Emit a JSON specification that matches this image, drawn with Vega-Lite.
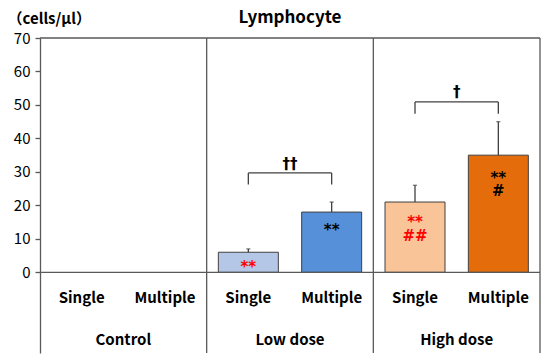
{
  "$schema": "https://vega.github.io/schema/vega-lite/v6.json",
  "width": 500,
  "height": 315,
  "autosize": {"type": "none"},
  "padding": {"left": 40, "top": 38, "right": 10, "bottom": 11},
  "background": "white",
  "config": {
    "view": {"stroke": null},
    "font": "Noto Sans CJK JP"
  },
  "title": {
    "text": "Lymphocyte",
    "font": "Noto Sans CJK JP",
    "fontSize": 17,
    "fontWeight": "bold",
    "color": "black",
    "anchor": "middle",
    "offset": -16
  },
  "datasets": {
    "bars": [
      {"group": "Control", "type": "Single", "key": "Control|Single", "value": 0, "upper": 0},
      {"group": "Control", "type": "Multiple", "key": "Control|Multiple", "value": 0, "upper": 0},
      {"group": "Low dose", "type": "Single", "key": "Low dose|Single", "value": 6, "upper": 7},
      {"group": "Low dose", "type": "Multiple", "key": "Low dose|Multiple", "value": 18, "upper": 21},
      {"group": "High dose", "type": "Single", "key": "High dose|Single", "value": 21, "upper": 26},
      {"group": "High dose", "type": "Multiple", "key": "High dose|Multiple", "value": 35, "upper": 45}
    ],
    "marks": [
      {"key": "Low dose|Single", "y": 2.6, "label": "**", "kind": "star", "tone": "red"},
      {"key": "Low dose|Multiple", "y": 13.5, "label": "**", "kind": "star", "tone": "black"},
      {"key": "High dose|Single", "y": 15.8, "label": "**", "kind": "star", "tone": "red"},
      {"key": "High dose|Single", "y": 10.9, "label": "##", "kind": "hash", "tone": "red"},
      {"key": "High dose|Multiple", "y": 29.2, "label": "**", "kind": "star", "tone": "black"},
      {"key": "High dose|Multiple", "y": 24.4, "label": "#", "kind": "hash", "tone": "black"}
    ],
    "brackets": [
      {"left": "Low dose|Single", "right": "Low dose|Multiple", "top": 29.7, "bottom": 26.2, "label": "††", "labelY": 32.4},
      {"left": "High dose|Single", "right": "High dose|Multiple", "top": 50.9, "bottom": 47.4, "label": "†", "labelY": 53.9}
    ],
    "legs": [
      {"key": "Low dose|Single", "top": 29.7, "bottom": 26.2},
      {"key": "Low dose|Multiple", "top": 29.7, "bottom": 26.2},
      {"key": "High dose|Single", "top": 50.9, "bottom": 47.4},
      {"key": "High dose|Multiple", "top": 50.9, "bottom": 47.4}
    ],
    "one": [{}]
  },
  "layer": [
    {
      "data": {"name": "bars"},
      "transform": [{"filter": "datum.value > 0"}],
      "mark": {"type": "bar", "width": {"band": 0.72}, "stroke": "#404040", "strokeWidth": 1},
      "encoding": {
        "x": {
          "field": "key",
          "type": "nominal",
          "scale": {
            "type": "band",
            "domain": ["Control|Single", "Control|Multiple", "Low dose|Single", "Low dose|Multiple", "High dose|Single", "High dose|Multiple"],
            "paddingInner": 0,
            "paddingOuter": 0
          },
          "axis": null
        },
        "y": {
          "field": "value",
          "type": "quantitative",
          "scale": {"domain": [-24.1, 70], "nice": false, "zero": false},
          "axis": {
            "values": [0, 10, 20, 30, 40, 50, 60, 70],
            "grid": false,
            "domainColor": "#595959",
            "domainWidth": 1.3,
            "tickColor": "#595959",
            "tickSize": 5,
            "tickWidth": 1.3,
            "labelFont": "Noto Sans CJK JP",
            "labelFontSize": 15,
            "labelColor": "black",
            "labelPadding": 5,
            "title": "（cells/μl）",
            "titleAngle": 0,
            "titleFont": "Noto Sans CJK JP",
            "titleFontSize": 15,
            "titleFontWeight": "bold",
            "titleColor": "black",
            "titleX": -33,
            "titleY": -20,
            "titleAlign": "left",
            "titleBaseline": "middle"
          }
        },
        "color": {
          "field": "key",
          "type": "nominal",
          "scale": {
            "domain": ["Low dose|Single", "Low dose|Multiple", "High dose|Single", "High dose|Multiple"],
            "range": ["#B4C7E7", "#5590D8", "#F8C498", "#E46C0A"]
          },
          "legend": null
        }
      }
    },
    {
      "data": {"name": "bars"},
      "transform": [{"filter": "datum.value > 0"}],
      "mark": {"type": "rule", "color": "#404040", "strokeWidth": 1.3},
      "encoding": {
        "x": {"field": "key", "type": "nominal"},
        "y": {"field": "value", "type": "quantitative"},
        "y2": {"field": "upper"}
      }
    },
    {
      "data": {"name": "bars"},
      "transform": [{"filter": "datum.value > 0"}],
      "mark": {"type": "tick", "orient": "horizontal", "size": 4, "thickness": 1.3, "color": "#404040"},
      "encoding": {
        "x": {"field": "key", "type": "nominal"},
        "y": {"field": "upper", "type": "quantitative"}
      }
    },
    {
      "data": {"name": "one"},
      "mark": {"type": "rule", "color": "#595959", "strokeWidth": 1.3},
      "encoding": {"y": {"datum": 70}}
    },
    {
      "data": {"name": "one"},
      "mark": {"type": "rule", "color": "#595959", "strokeWidth": 1.3},
      "encoding": {"y": {"datum": 0}}
    },
    {
      "data": {"name": "one"},
      "mark": {"type": "rule", "color": "#595959", "strokeWidth": 1.3},
      "encoding": {"x": {"datum": "Low dose|Single", "bandPosition": 0}}
    },
    {
      "data": {"name": "one"},
      "mark": {"type": "rule", "color": "#595959", "strokeWidth": 1.3},
      "encoding": {"x": {"datum": "High dose|Single", "bandPosition": 0}}
    },
    {
      "data": {"name": "one"},
      "mark": {"type": "rule", "color": "#595959", "strokeWidth": 1.3},
      "encoding": {"x": {"datum": "High dose|Multiple", "bandPosition": 1}}
    },
    {
      "data": {"name": "brackets"},
      "mark": {"type": "rule", "color": "#404040", "strokeWidth": 1.3},
      "encoding": {
        "x": {"field": "left", "type": "nominal"},
        "x2": {"field": "right"},
        "y": {"field": "top", "type": "quantitative"}
      }
    },
    {
      "data": {"name": "legs"},
      "mark": {"type": "rule", "color": "#404040", "strokeWidth": 1.3},
      "encoding": {
        "x": {"field": "key", "type": "nominal"},
        "y": {"field": "top", "type": "quantitative"},
        "y2": {"field": "bottom"}
      }
    },
    {
      "data": {"name": "brackets"},
      "mark": {"type": "text", "font": "DejaVu Sans", "fontSize": 15, "fontWeight": "bold", "baseline": "alphabetic", "dy": 5, "color": "black"},
      "encoding": {
        "x": {"field": "left", "type": "nominal", "bandPosition": 1},
        "y": {"field": "labelY", "type": "quantitative"},
        "text": {"field": "label"}
      }
    },
    {
      "data": {"name": "marks"},
      "transform": [{"filter": "datum.kind === 'star'"}],
      "mark": {"type": "text", "font": "DejaVu Sans", "fontSize": 15, "fontWeight": "bold", "baseline": "alphabetic", "dy": 8},
      "encoding": {
        "x": {"field": "key", "type": "nominal"},
        "y": {"field": "y", "type": "quantitative"},
        "text": {"field": "label"},
        "color": {"field": "tone", "type": "nominal", "scale": null}
      }
    },
    {
      "data": {"name": "marks"},
      "transform": [{"filter": "datum.kind === 'hash'"}],
      "mark": {"type": "text", "font": "DejaVu Sans", "fontSize": 15, "fontWeight": "bold", "baseline": "alphabetic", "dy": 5.5},
      "encoding": {
        "x": {"field": "key", "type": "nominal"},
        "y": {"field": "y", "type": "quantitative"},
        "text": {"field": "label"},
        "color": {"field": "tone", "type": "nominal", "scale": null}
      }
    },
    {
      "data": {"name": "bars"},
      "mark": {"type": "text", "fontSize": 15, "fontWeight": "bold", "baseline": "middle", "color": "black"},
      "encoding": {
        "x": {"field": "key", "type": "nominal"},
        "y": {"datum": -7.6},
        "text": {"field": "type"}
      }
    },
    {
      "data": {"name": "bars"},
      "transform": [{"filter": "datum.type === 'Single'"}],
      "mark": {"type": "text", "fontSize": 15, "fontWeight": "bold", "baseline": "middle", "color": "black"},
      "encoding": {
        "x": {"field": "key", "type": "nominal", "bandPosition": 1},
        "y": {"datum": -20.2},
        "text": {"field": "group"}
      }
    }
  ]
}
